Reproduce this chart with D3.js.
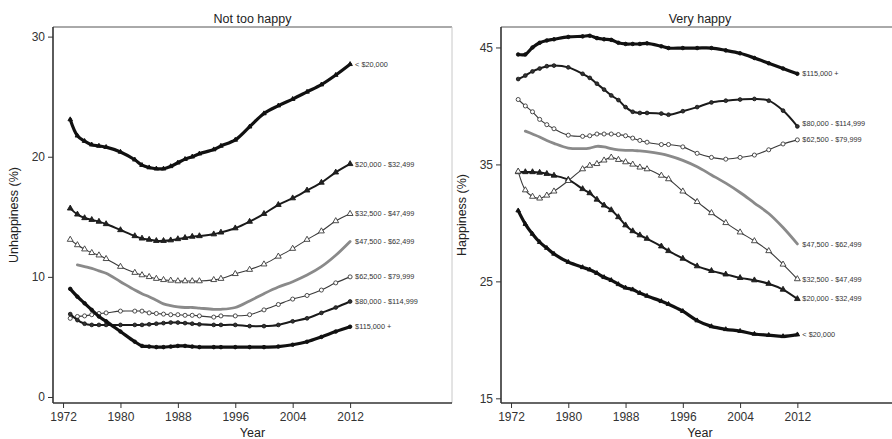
<!DOCTYPE html>
<html>
<head>
<meta charset="utf-8">
<script src="https://cdn.jsdelivr.net/npm/d3@7/dist/d3.min.js"></script>
<style>
  body { margin: 0; background: #fff; }
  svg text { font-family: "Liberation Sans", Arial, Helvetica, sans-serif; }
</style>
</head>
<body>
<svg width="892" height="439"></svg>
<script>
// survey years (points on every line)
const years = [1973, 1974, 1975, 1976, 1977, 1978, 1980, 1982, 1983, 1984, 1985, 1986, 1987, 1988,
  1989, 1990, 1991, 1993, 1994, 1996, 1998, 2000, 2002, 2004, 2006, 2008, 2010, 2012];

const incomeGroups = ["< $20,000", "$20,000 - $32,499", "$32,500 - $47,499", "$47,500 - $62,499",
  "$62,500 - $79,999", "$80,000 - $114,999", "$115,000 +"];

const yearTicks = [1972, 1980, 1988, 1996, 2004, 2012];
const unhappyTicks = [0, 10, 20, 30];
const happyTicks = [15, 25, 35, 45];

// "Not too happy" (%)
const unhappyUnder20 = [23.1, 21.75, 21.3, 21.0, 20.9, 20.8, 20.4, 19.75, 19.3, 19.1, 19.0, 19.0, 19.2, 19.5,
  19.8, 20.0, 20.25, 20.6, 20.9, 21.4, 22.5, 23.6, 24.25, 24.8, 25.4, 26.0, 26.8, 27.7];
const unhappy20to32 = [15.7, 15.2, 14.9, 14.75, 14.6, 14.4, 13.9, 13.4, 13.2, 13.1, 13.0, 13.0, 13.05, 13.15,
  13.25, 13.35, 13.4, 13.55, 13.7, 14.05, 14.6, 15.25, 16.0, 16.55, 17.2, 17.85, 18.7, 19.4];
const unhappy32to47 = [13.1, 12.65, 12.3, 12.0, 11.8, 11.5, 10.85, 10.35, 10.15, 10.0, 9.85, 9.75, 9.7, 9.65,
  9.65, 9.65, 9.65, 9.75, 9.85, 10.25, 10.6, 11.05, 11.7, 12.35, 13.1, 13.8, 14.65, 15.25];
const unhappy47to62 = [null, 11.0, 10.85, 10.7, 10.5, 10.3, 9.6, 8.9, 8.6, 8.35, 8.05, 7.75, 7.6, 7.5,
  7.45, 7.45, 7.4, 7.3, 7.3, 7.45, 8.0, 8.6, 9.15, 9.6, 10.15, 10.85, 11.8, 12.95];
const unhappy62to79 = [6.55, 6.7, 6.75, 6.85, 6.95, 7.0, 7.15, 7.15, 7.15, 7.0, 6.95, 6.9, 6.85, 6.85,
  6.8, 6.8, 6.75, 6.65, 6.75, 6.75, 6.85, 7.25, 7.7, 8.15, 8.45, 8.9, 9.5, 10.0];
const unhappy80to114 = [6.9, 6.4, 6.1, 6.0, 6.0, 6.0, 6.0, 6.0, 6.0, 6.05, 6.1, 6.15, 6.2, 6.2,
  6.15, 6.1, 6.05, 6.0, 6.0, 6.0, 5.9, 5.9, 6.0, 6.3, 6.55, 7.0, 7.45, 7.95];
const unhappyOver115 = [9.0, 8.35, 7.8, 7.25, 6.7, 6.3, 5.45, 4.6, 4.25, 4.2, 4.15, 4.15, 4.2, 4.25,
  4.25, 4.2, 4.15, 4.15, 4.15, 4.15, 4.15, 4.15, 4.2, 4.35, 4.6, 5.0, 5.45, 5.85];

// "Very happy" (%)
const happyUnder20 = [31.05, 29.9, 29.05, 28.35, 27.85, 27.35, 26.65, 26.2, 26.0, 25.7, 25.35, 25.1, 24.75, 24.45,
  24.3, 24.0, 23.75, 23.3, 23.05, 22.45, 21.65, 21.15, 20.9, 20.75, 20.5, 20.4, 20.3, 20.45];
const happy20to32 = [34.35, 34.35, 34.35, 34.3, 34.2, 34.05, 33.7, 32.9, 32.55, 32.0, 31.5, 31.1, 30.5, 29.8,
  29.3, 28.95, 28.65, 28.0, 27.6, 26.95, 26.3, 25.9, 25.6, 25.3, 25.1, 24.8, 24.3, 23.5];
const happy32to47 = [34.4, 32.8, 32.25, 32.1, 32.35, 32.7, 33.6, 34.6, 34.9, 35.05, 35.35, 35.6, 35.4, 35.2,
  35.0, 34.75, 34.6, 34.05, 33.75, 32.7, 31.8, 30.85, 30.0, 29.2, 28.45, 27.6, 26.45, 25.2];
const happy47to62 = [null, 37.85, 37.6, 37.35, 37.05, 36.8, 36.4, 36.35, 36.4, 36.55, 36.5, 36.35, 36.25, 36.2,
  36.2, 36.15, 36.1, 35.9, 35.75, 35.35, 34.8, 34.1, 33.4, 32.6, 31.7, 30.8, 29.6, 28.2];
const happy62to79 = [40.55, 40.0, 39.5, 38.85, 38.4, 38.05, 37.5, 37.4, 37.45, 37.6, 37.6, 37.6, 37.55, 37.45,
  37.25, 37.05, 36.9, 36.7, 36.7, 36.5, 35.95, 35.6, 35.45, 35.6, 35.8, 36.25, 36.75, 37.1];
const happy80to114 = [42.3, 42.6, 42.95, 43.2, 43.4, 43.45, 43.3, 42.75, 42.4, 41.9, 41.4, 40.9, 40.5, 39.9,
  39.5, 39.4, 39.4, 39.35, 39.25, 39.55, 39.9, 40.3, 40.45, 40.55, 40.6, 40.45, 39.6, 38.25];
const happyOver115 = [44.4, 44.4, 45.0, 45.4, 45.6, 45.7, 45.9, 45.95, 46.0, 45.8, 45.7, 45.65, 45.4, 45.3,
  45.3, 45.3, 45.35, 45.1, 44.95, 44.95, 44.95, 44.95, 44.75, 44.5, 44.1, 43.65, 43.2, 42.75];

// line / marker look for each income group, same order as incomeGroups
const looks = [
  { width: 3.2, color: "#111", symbol: d3.symbolTriangle, size: 9, fill: "#111" },
  { width: 2, color: "#1a1a1a", symbol: d3.symbolTriangle, size: 14, fill: "#222" },
  { width: 1.1, color: "#3a3a3a", symbol: d3.symbolTriangle, size: 15, fill: "#fff" },
  { width: 2.8, color: "#8a8a8a", symbol: null },
  { width: 1.1, color: "#3a3a3a", symbol: d3.symbolCircle, size: 13, fill: "#fff" },
  { width: 2, color: "#1a1a1a", symbol: d3.symbolCircle, size: 11, fill: "#333" },
  { width: 3.2, color: "#111", symbol: d3.symbolCircle, size: 10, fill: "#111" }
];

const panels = [
  { title: "Not too happy", yLabel: "Unhappiness (%)", left: 53, right: 452, yDomain: [-0.5, 30.8], yTicks: unhappyTicks,
    series: [unhappyUnder20, unhappy20to32, unhappy32to47, unhappy47to62, unhappy62to79, unhappy80to114, unhappyOver115] },
  { title: "Very happy", yLabel: "Happiness (%)", left: 501, right: 899, yDomain: [14.6, 46.75], yTicks: happyTicks,
    series: [happyUnder20, happy20to32, happy32to47, happy47to62, happy62to79, happy80to114, happyOver115] }
];

const plotTop = 27, plotBottom = 403;
const svg = d3.select("svg");

panels.forEach(p => {
  const x = d3.scaleLinear().domain([1970.6, 2026.2]).range([p.left, p.right]);
  const y = d3.scaleLinear().domain(p.yDomain).range([plotBottom, plotTop]);
  const mid = (p.left + p.right) / 2;

  const g = svg.append("g");

  // frame
  g.append("line").attr("x1", p.left).attr("x2", p.right).attr("y1", plotTop).attr("y2", plotTop)
    .attr("stroke", "#555").attr("stroke-width", 1);
  g.append("line").attr("x1", p.right).attr("x2", p.right).attr("y1", plotTop).attr("y2", plotBottom)
    .attr("stroke", "#c8c8c8").attr("stroke-width", 1);

  const yAxis = g.append("g").attr("transform", `translate(${p.left},0)`)
    .call(d3.axisLeft(y).tickValues(p.yTicks).tickSize(5).tickPadding(3));
  const xAxis = g.append("g").attr("transform", `translate(0,${plotBottom})`)
    .call(d3.axisBottom(x).tickValues(yearTicks).tickFormat(d3.format("d")).tickSize(5).tickPadding(4));
  [yAxis, xAxis].forEach(a => {
    a.select(".domain").attr("stroke", "#333").attr("stroke-width", 1.6);
    a.selectAll(".tick line").attr("stroke", "#333");
    a.selectAll(".tick text").attr("fill", "#333").style("font-size", "12px");
  });
  // the axis lines span the full frame
  yAxis.select(".domain").attr("d", `M0,${plotTop}V${plotBottom}`);
  xAxis.select(".domain").attr("d", `M${p.left},0H${p.right}`);

  g.append("text").attr("x", mid).attr("y", 23)
    .attr("text-anchor", "middle").attr("fill", "#222").style("font-size", "12.5px").text(p.title);
  g.append("text").attr("x", mid).attr("y", 437)
    .attr("text-anchor", "middle").attr("fill", "#222").style("font-size", "12.5px").text("Year");
  g.append("text").attr("transform", `translate(${p.left - 35},${(plotTop + plotBottom) / 2}) rotate(-90)`)
    .attr("text-anchor", "middle").attr("fill", "#222").style("font-size", "12.5px").text(p.yLabel);

  const line = d3.line()
    .defined(d => d.v != null)
    .x(d => x(d.year)).y(d => y(d.v))
    .curve(d3.curveCatmullRom.alpha(0.5));

  const ends = [];
  p.series.forEach((vals, i) => {
    const look = looks[i];
    const pts = years.map((yr, j) => ({ year: yr, v: vals[j] }));
    g.append("path").datum(pts).attr("d", line)
      .attr("fill", "none").attr("stroke", look.color).attr("stroke-width", look.width)
      .attr("stroke-linejoin", "round").attr("stroke-linecap", "round");
    if (look.symbol) {
      g.selectAll(null).data(pts.filter(d => d.v != null)).join("path")
        .attr("transform", d => `translate(${x(d.year)},${y(d.v)})`)
        .attr("d", d3.symbol(look.symbol, look.size))
        .attr("fill", look.fill).attr("stroke", look.color).attr("stroke-width", 0.9);
    }
    const last = pts[pts.length - 1];
    ends.push({ label: incomeGroups[i], x: x(last.year) + 5, y: y(last.v) });
  });

  // keep end labels from overlapping
  ends.sort((a, b) => b.y - a.y);
  for (let k = 1; k < ends.length; k++) {
    if (ends[k - 1].y - ends[k].y < 16) ends[k].y = ends[k - 1].y - 16;
  }
  g.selectAll(null).data(ends).join("text")
    .attr("x", d => d.x).attr("y", d => d.y).attr("dy", "0.35em")
    .attr("fill", "#333").style("font-size", "7.3px").text(d => d.label);
});
</script>
</body>
</html>
